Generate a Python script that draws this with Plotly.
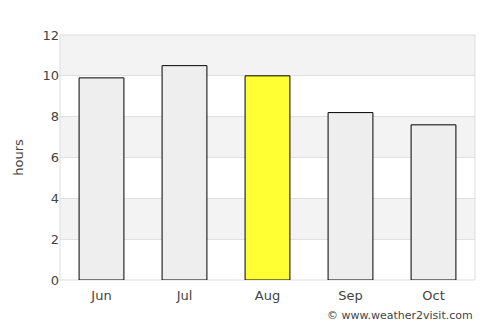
import plotly.graph_objects as go

months = ["Jun", "Jul", "Aug", "Sep", "Oct"]
hours = [9.9, 10.5, 10.0, 8.2, 7.6]
bar_colors = ["#eeeeee", "#eeeeee", "#ffff33", "#eeeeee", "#eeeeee"]
y_ticks = [0, 2, 4, 6, 8, 10, 12]
bands = [(2, 4), (6, 8), (10, 12)]

fig = go.Figure()
fig.add_trace(go.Bar(
    x=months, y=hours,
    marker=dict(color=bar_colors, line=dict(color="#000000", width=1)),
    width=0.54,
))

shapes = []
for y0, y1 in bands:
    shapes.append(dict(type="rect", xref="paper", yref="y", x0=0, x1=1, y0=y0, y1=y1,
                       fillcolor="#f3f3f3", line=dict(width=0), layer="below"))
shapes.append(dict(type="rect", xref="paper", yref="paper", x0=0, x1=1, y0=0, y1=1,
                   line=dict(color="#dddddd", width=1), fillcolor="rgba(0,0,0,0)", layer="below"))

fig.update_layout(
    width=500, height=325,
    margin=dict(l=60, r=25, t=35, b=45),
    paper_bgcolor="white", plot_bgcolor="white",
    font=dict(family="DejaVu Sans", size=13, color="#444444"),
    showlegend=False,
    shapes=shapes,
    xaxis=dict(showgrid=False, showline=False, ticks="", tickfont=dict(size=13),
               ticklabelstandoff=6),
    yaxis=dict(range=[0, 12], tickvals=y_ticks, showgrid=True, gridcolor="#e0e0e0",
               zeroline=False, showline=False, ticks="", ticklen=0,
               title=dict(text="hours", font=dict(size=13), standoff=15),
               tickfont=dict(size=13)),
    bargap=0.46,
    annotations=[dict(text="© www.weather2visit.com", xref="paper", yref="paper",
                      x=1, y=0, yshift=-44, xanchor="right", yanchor="bottom",
                      showarrow=False, font=dict(size=11, color="#444444"))],
)

fig.write_html("out.html")
